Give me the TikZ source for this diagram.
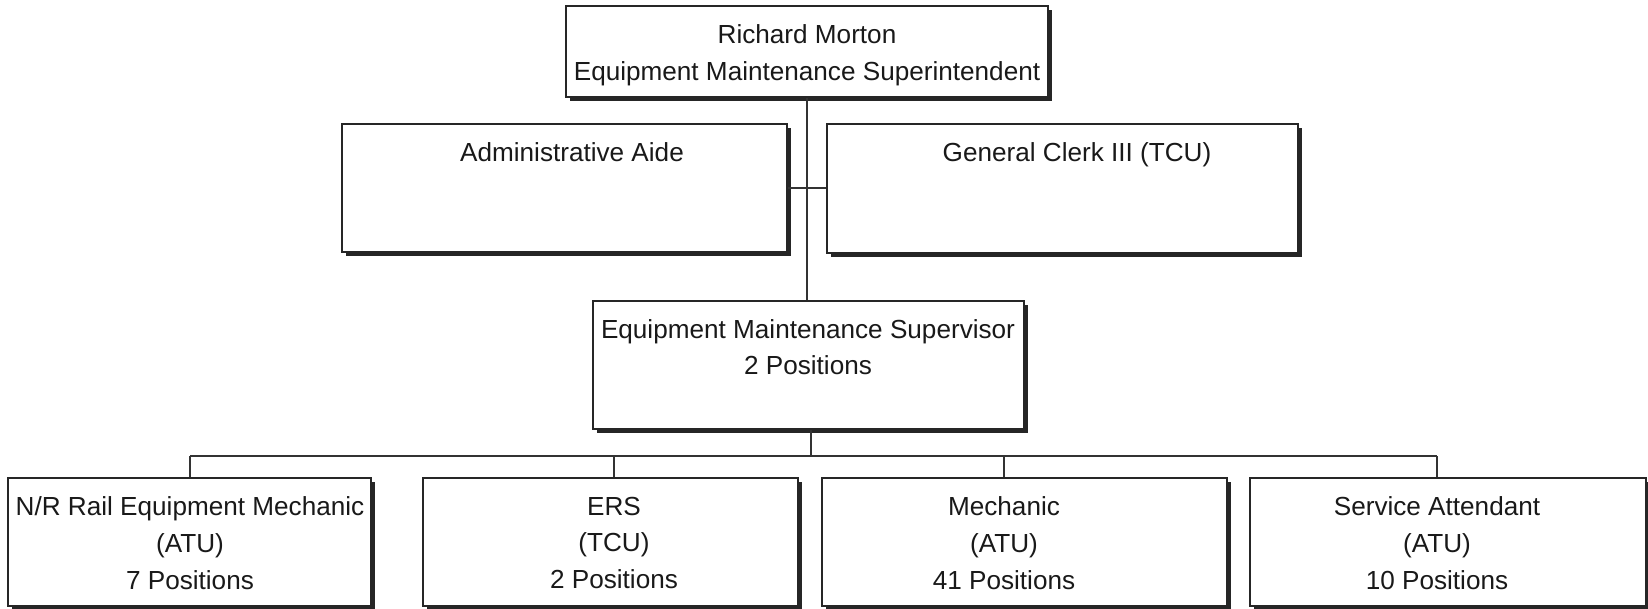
\documentclass[tikz,border=0pt]{standalone}
\usepackage{fontspec}
\setmainfont{Liberation Sans}
\usetikzlibrary{shadows}
\begin{document}
\begin{tikzpicture}[x=0.75pt,y=-0.75pt,
  box/.style={draw=black!85, line width=1.1pt, fill=white, inner sep=0pt,
    drop shadow={shadow xshift=2.8pt, shadow yshift=-2.8pt, fill=black!85, opacity=1}},
  lbl/.style={align=center, inner sep=0pt, font=\fontsize{19.6}{27.5}\selectfont, text=black!90},
  conn/.style={draw=black!80, line width=0.9pt}]
\path[use as bounding box, fill=white] (0,0) rectangle (1648,609);
% boxes
\node[box, minimum width=361.5pt, minimum height=68.25pt] (top) at (807,51.5) {};
\node[box, minimum width=333.75pt, minimum height=96pt] (admin) at (564.5,188) {};
\node[box, minimum width=353.25pt, minimum height=96.75pt] (clerk) at (1062.5,188.5) {};
\node[box, minimum width=323.25pt, minimum height=96pt] (sup) at (808.5,365) {};
\node[box, minimum width=272.25pt, minimum height=96pt] (b1) at (189.5,542) {};
\node[box, minimum width=281.25pt, minimum height=96pt] (b2) at (610.5,542) {};
\node[box, minimum width=303.75pt, minimum height=96pt] (b3) at (1024.5,542) {};
\node[box, minimum width=297pt, minimum height=96pt] (b4) at (1448,542) {};
% texts
\node[lbl] (ttop) at (807,55) {Richard Morton\\Equipment Maintenance Superintendent};
\node[lbl, anchor=base] (tadmin) at (572,162) {Administrative Aide};
\node[lbl, anchor=base] (tclerk) at (1077,162) {General Clerk III (TCU)};
\node[lbl] (tsup) at (808,347) {Equipment Maintenance Supervisor\\2 Positions};
\node[lbl] (t1) at (190,543) {N/R Rail Equipment Mechanic\\(ATU)\\7 Positions};
\node[lbl] (t2) at (614,543) {ERS\\(TCU)\\2 Positions};
\node[lbl] (t3) at (1004,543) {Mechanic\\(ATU)\\41 Positions};
\node[lbl] (t4) at (1437,543) {Service Attendant\\(ATU)\\10 Positions};
% connectors
\coordinate (bus) at (811,456);
\draw[conn] (top.south) -- (top.south |- sup.north);
\draw[conn] (admin.east) -- (admin.east -| clerk.west);
\draw[conn] (sup.south -| bus) -- (bus);
\draw[conn] (t1 |- bus) -- (t4 |- bus);
\draw[conn] (t1 |- bus) -- (t1 |- b1.north);
\draw[conn] (t2 |- bus) -- (t2 |- b2.north);
\draw[conn] (t3 |- bus) -- (t3 |- b3.north);
\draw[conn] (t4 |- bus) -- (t4 |- b4.north);
\end{tikzpicture}
\end{document}
